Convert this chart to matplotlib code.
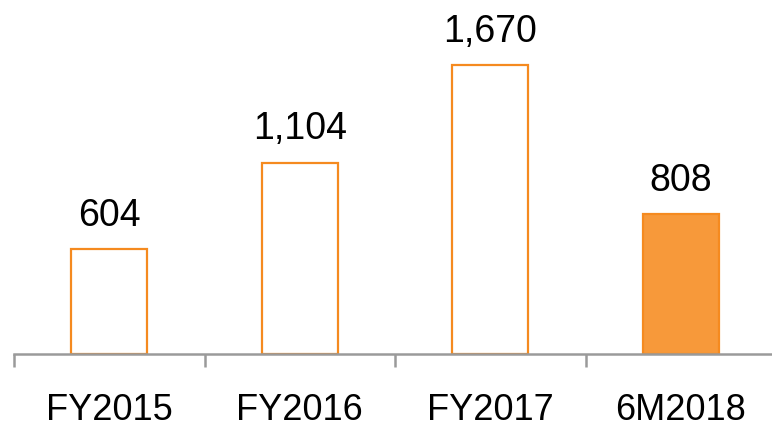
import matplotlib
matplotlib.use("Agg")
import matplotlib.pyplot as plt

categories = ["FY2015", "FY2016", "FY2017", "6M2018"]
values = [604, 1104, 1670, 808]
value_labels = ["604", "1,104", "1,670", "808"]
filled = [False, False, False, True]

plt.rcParams['font.family'] = ['Liberation Sans', 'DejaVu Sans']

W, H = 772, 427
fig = plt.figure(figsize=(W / 100, H / 100), dpi=100)
axis_y = 354.5
left = 14
ax = fig.add_axes([left / W, (H - axis_y) / H, 762 / W, axis_y / H])

edge = "#F58A1F"
fillc = "#F7993A"
for i, (v, f) in enumerate(zip(values, filled)):
    ax.bar(i, v, width=0.40, facecolor=fillc if f else "white",
           edgecolor=edge, linewidth=1.6, zorder=2)
    ax.text(i, v + 95, value_labels[i], ha="center", va="bottom",
            fontsize=27, color="black")

ax.set_xlim(-0.5, len(categories) - 0.5)
ax.set_ylim(0, axis_y * 5.79)
for s in ["top", "right", "left"]:
    ax.spines[s].set_visible(False)
ax.spines["bottom"].set_color("#9A9A9A")
ax.spines["bottom"].set_linewidth(1.8)
ax.spines["bottom"].set_zorder(3)
ax.set_yticks([])
ax.set_xticks([i - 0.5 for i in range(len(categories) + 1)], minor=False)
ax.set_xticklabels([""] * (len(categories) + 1))
ax.tick_params(axis="x", which="major", length=9.5, width=1.8, color="#9A9A9A")
ax.set_xticks(range(len(categories)), minor=True)
ax.set_xticklabels(categories, minor=True)
ax.tick_params(axis="x", which="minor", length=0, labelsize=26, pad=28)

fig.savefig("out.png", dpi=100)
